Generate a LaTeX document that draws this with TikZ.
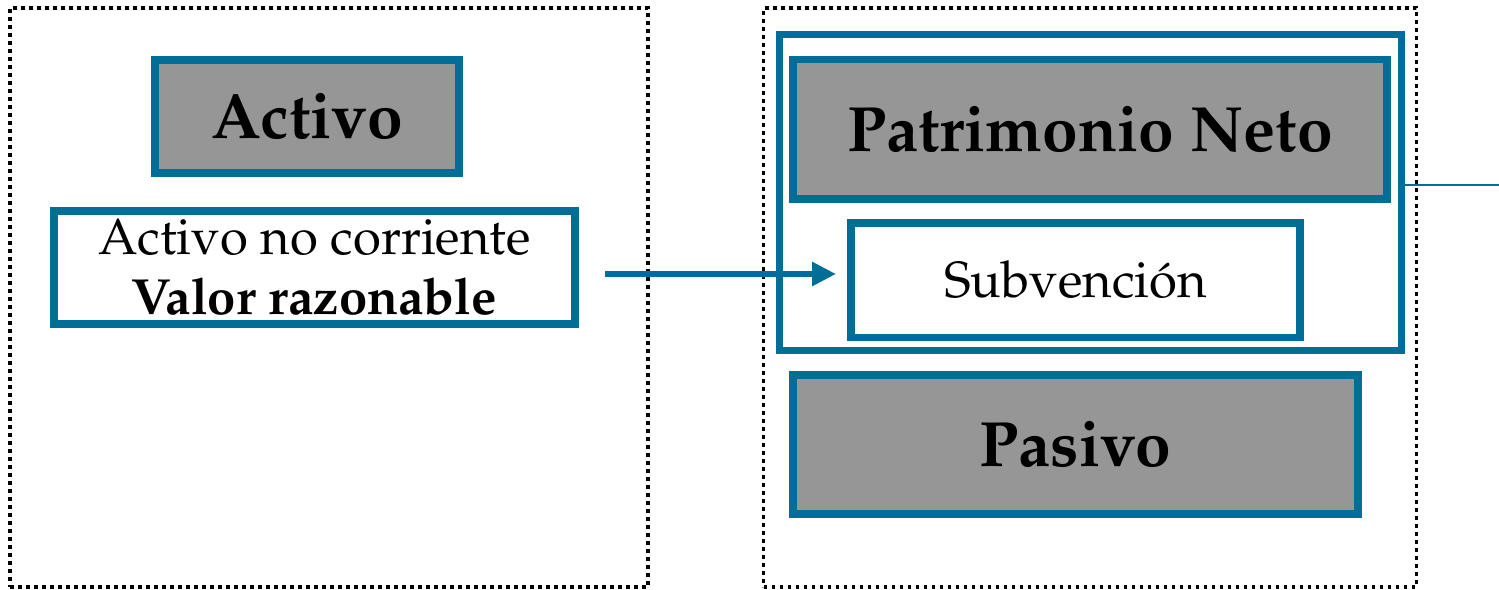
\documentclass[tikz,border=0pt]{standalone}
\usepackage[T1]{fontenc}
\usepackage{mathpazo}
\usetikzlibrary{arrows.meta, positioning}
\definecolor{balblue}{HTML}{006E96}
\definecolor{balgray}{HTML}{969696}

\begin{document}
\begin{tikzpicture}[
    x=0.5pt, y=-0.5pt,
    side/.style={draw=black, line width=1.9pt, dash pattern=on 1.8pt off 2.2pt, inner sep=0pt, outer sep=0pt},
    head/.style={draw=balblue, fill=balgray, line width=3.75pt, inner sep=0pt, outer sep=0pt, font=\fontsize{32}{38}\selectfont\bfseries},
    item/.style={draw=balblue, fill=white, line width=3.75pt, inner sep=0pt, outer sep=0pt, align=center, font=\fontsize{25.4}{30}\selectfont},
    group/.style={draw=balblue, line width=3.5pt, inner sep=0pt, outer sep=0pt},
    arrow/.style={-{Triangle[length=12pt,width=11.5pt]}, line width=2.9pt, draw=balblue, fill=balblue}
  ]
  \useasboundingbox (0,0) rectangle (1499,589);
  \node[side, minimum width=319pt, minimum height=289.5pt] (left) at (329,297.5) {};
  \node[side, minimum width=326.5pt, minimum height=289.5pt] (right) at (1090,297.5) {};
  \node[head, minimum width=152pt, minimum height=56.5pt] (act) at (307,116.5) {Activo};
  \node[item, minimum width=260.5pt, minimum height=56.5pt] (anc) at (314.5,267.5) {Activo no corriente\\\textbf{Valor razonable}};
  \node[group, minimum width=311pt, minimum height=158pt] (grp) at (1090,192) {};
  \node[head, minimum width=297pt, minimum height=69.75pt] (pn) at (1090,129) {Patrimonio Neto};
  \node[item, minimum width=224.5pt, minimum height=57.25pt] (sub) at (1075.5,280) {Subvención};
  \node[head, minimum width=282.5pt, minimum height=69.5pt] (pas) at (1075.5,444.5) {Pasivo};
  \coordinate (edge) at (1499,185.3);
  \draw[arrow] ([xshift=15pt,yshift=-3.25pt]anc.east) -- ([xshift=-7.5pt,yshift=3pt]sub.west);
  \draw[balblue, line width=1pt] ([yshift=3.35pt]grp.east) -- (edge);
\end{tikzpicture}
\end{document}
